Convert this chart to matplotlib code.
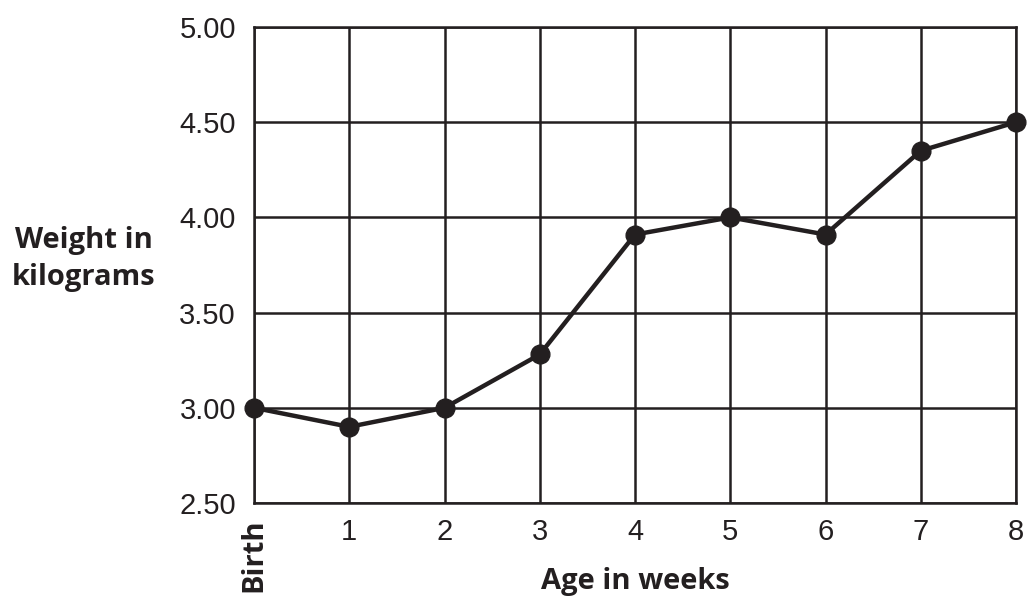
import matplotlib
matplotlib.use("Agg")
import matplotlib.pyplot as plt

weeks = [0, 1, 2, 3, 4, 5, 6, 7, 8]
weight = [3.00, 2.90, 3.00, 3.28, 3.91, 4.00, 3.91, 4.35, 4.50]
xlabels = ["Birth", "1", "2", "3", "4", "5", "6", "7", "8"]
yticks = [2.50, 3.00, 3.50, 4.00, 4.50, 5.00]

ink = "#231f20"

fig = plt.figure(figsize=(10.32, 5.99), dpi=100)
ax = fig.add_axes([254 / 1032, 1 - 503 / 599, (1016 - 254) / 1032, (503 - 27) / 599])

ax.set_xlim(0, 8)
ax.set_ylim(2.5, 5.0)
ax.set_xticks(weeks)
ax.set_yticks(yticks)
ax.set_xticklabels(xlabels, fontsize=21, family="Liberation Sans", color=ink)
ax.set_yticklabels(["%.2f" % v for v in yticks], fontsize=21, family="Liberation Sans", color=ink)
ax.tick_params(axis="y", length=0, pad=13)
ax.tick_params(axis="x", length=0, pad=11)

birth = ax.get_xticklabels()[0]
birth.set_rotation(90)
birth.set_fontweight("bold")
birth.set_family("Open Sans")
birth.set_fontsize(21)

ax.grid(True, color=ink, linewidth=1.8)
for s in ax.spines.values():
    s.set_color(ink)
    s.set_linewidth(1.8)

ax.plot(weeks, weight, color=ink, linewidth=3.2, marker="o", markersize=13.5,
        clip_on=False, zorder=5)

fig.text(84 / 1032, 1 - 259 / 599, "Weight in\nkilograms", ha="center", va="center",
         fontsize=21, fontweight="bold", family="Open Sans", color=ink, linespacing=1.4)
fig.text(635 / 1032, 1 - 581 / 599, "Age in weeks", ha="center", va="center",
         fontsize=21, fontweight="bold", family="Open Sans", color=ink)

fig.savefig("out.png", dpi=100, facecolor="white")
